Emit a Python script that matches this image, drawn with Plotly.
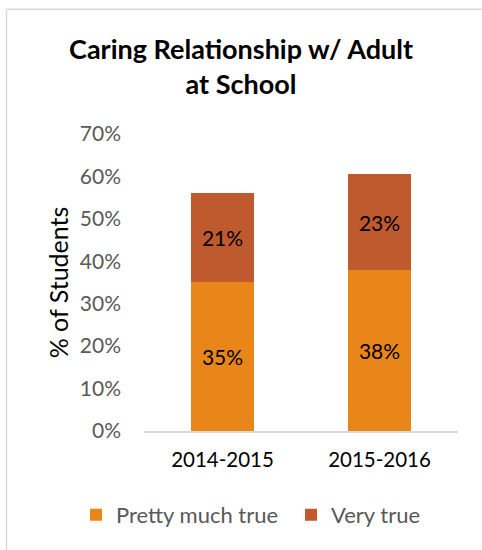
import plotly.graph_objects as go

years = ["2014-2015", "2015-2016"]
pretty_much_true = [35.1, 37.9]
very_true = [21.0, 22.6]
tick_vals = [0, 10, 20, 30, 40, 50, 60, 70]
tick_text = ["0%", "10%", "20%", "30%", "40%", "50%", "60%", "70%"]

FONT = "Lato, Calibri, Carlito, sans-serif"

fig = go.Figure()
fig.add_trace(go.Bar(
    x=years, y=pretty_much_true, name="Pretty much true",
    marker=dict(color="#E8861A", line=dict(width=0)),
    text=[f"{round(v)}%" for v in pretty_much_true],
    textposition="inside", insidetextanchor="middle",
    textfont=dict(color="black", size=21, family=FONT),
))
fig.add_trace(go.Bar(
    x=years, y=very_true, name="Very true",
    marker=dict(color="#BE5A2E", line=dict(width=0)),
    text=[f"{round(v)}%" for v in very_true],
    textposition="inside", insidetextanchor="middle",
    textfont=dict(color="black", size=21, family=FONT),
))

L, R, T, B = 144, 24, 133.5, 119
W, H = 482, 550
pw, ph = W - L - R, H - T - B

fig.update_layout(
    width=W, height=H,
    margin=dict(l=L, r=R, t=T, b=B, autoexpand=False),
    barmode="stack", bargap=0.6,
    plot_bgcolor="white", paper_bgcolor="white",
    font=dict(family=FONT),
    title=dict(
        text="<b>Caring Relationship w/ Adult<br>at School</b>",
        x=0.5, xanchor="center", y=1 - 59 / H, yanchor="middle",
        font=dict(size=27, color="black", family=FONT),
    ),
    showlegend=True,
    legend=dict(
        orientation="h", x=(76 - L) / pw, xanchor="left",
        y=-(515 - (H - B)) / ph, yanchor="middle",
        font=dict(size=22, color="#595959", family=FONT),
        traceorder="normal", itemwidth=30,
        entrywidth=170, entrywidthmode="pixels",
    ),
    xaxis=dict(
        showline=True, linecolor="#D9D9D9", linewidth=1.5,
        tickfont=dict(size=20.5, color="black", family=FONT),
        ticks="", showgrid=False, ticklabelstandoff=10,
    ),
    yaxis=dict(
        range=[0, 70], tickvals=tick_vals, ticktext=tick_text,
        showgrid=False, zeroline=False, showline=False,
        tickfont=dict(size=21, color="#595959", family=FONT),
        title=dict(text="% of Students", font=dict(size=25, color="black", family=FONT), standoff=4),
        ticks="", ticklabelstandoff=22,
    ),
    shapes=[
        dict(type="line", xref="paper", yref="paper",
             x0=(6.5 - L) / pw, x1=(6.5 - L) / pw,
             y0=(H - B - 8.5) / ph, y1=(H - B - 560) / ph,
             line=dict(color="#D9D9D9", width=1.5)),
        dict(type="line", xref="paper", yref="paper",
             x0=(6.5 - L) / pw, x1=(500 - L) / pw,
             y0=(H - B - 8.5) / ph, y1=(H - B - 8.5) / ph,
             line=dict(color="#D9D9D9", width=1.5)),
    ],
)

fig.write_html("out.html", config={"displayModeBar": False},
               post_script="document.body.style.margin='0';")
